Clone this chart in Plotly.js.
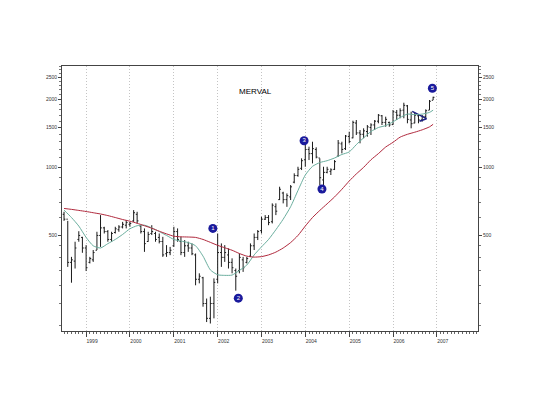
<!DOCTYPE html>
<html>
<head>
<meta charset="utf-8">
<script src="https://cdn.plot.ly/plotly-3.0.1.min.js"></script>
<style>html,body{margin:0;padding:0;background:#fff;}#chart{width:540px;height:405px;}</style>
</head>
<body>
<div id="chart"></div>
<script>
// Monthly bars, Jul 1998 .. Dec 2006
const startYear = 1998, startMonth = 7;
const high = [636,580,402,469,522,493,453,402,431,519,615,546,528,519,546,555,574,585,574,647,636,555,537,519,555,519,510,493,453,445,
546,537,493,477,469,461,416,340,328,263,268,323,510,461,453,438,396,357,416,402,402,461,510,528,605,615,615,693,693,821,
780,767,835,941,1006,1096,1298,1234,1298,1226,1096,1006,1006,990,1077,1321,1298,1390,1437,1608,1619,1462,1488,1539,1566,1619,1721,1704,1675,1592,
1793,1793,1824,1931,1887,1762,1744,1721,1704,1805,1985,2053];
const low = [580,363,309,357,469,419,348,376,382,431,445,510,469,469,510,519,537,537,546,574,565,510,423,469,502,469,461,402,402,409,
445,469,409,402,423,409,301,307,242,207,204,215,307,363,382,357,340,285,340,345,376,402,431,477,510,585,555,565,615,717,
693,669,717,850,909,973,1006,1077,1041,1096,835,835,941,925,973,1114,1153,1193,1277,1344,1390,1277,1344,1366,1390,1462,1566,1539,1512,1512,
1539,1619,1648,1648,1566,1488,1566,1566,1592,1648,1793,1985];
const open = [620,590,380,385,480,490,440,380,390,430,500,540,520,480,515,530,545,555,560,580,620,550,520,470,510,510,490,470,415,420,
450,520,470,420,450,440,410,320,325,250,215,250,320,420,400,410,380,350,350,390,380,405,450,490,525,590,600,575,670,720,
770,720,740,860,920,990,1080,1200,1150,1200,1100,880,950,960,980,1120,1270,1210,1370,1350,1570,1420,1400,1440,1500,1540,1600,1690,1580,1580,
1545,1750,1700,1790,1870,1620,1570,1690,1620,1680,1790,1980];
const close = [590,380,390,440,500,440,360,395,420,500,540,520,480,510,535,545,560,570,565,630,580,520,460,505,520,480,470,410,420,430,
520,480,420,450,440,415,320,330,250,215,250,310,420,400,420,380,360,330,400,360,395,450,490,520,590,600,570,680,640,800,
720,750,820,920,980,1070,1200,1150,1210,1110,900,950,980,975,1060,1280,1200,1375,1300,1580,1420,1400,1450,1510,1540,1600,1700,1580,1630,1540,
1760,1700,1780,1880,1630,1560,1700,1620,1680,1780,1960,2040];

// Moving averages
const maDates = ["1998-07","1998-09","1998-11","1999-01","1999-03","1999-05","1999-07","1999-09","1999-11","2000-01",
"2000-03","2000-05","2000-07","2000-09","2000-11","2001-01","2001-03","2001-05","2001-07","2001-09","2001-11",
"2002-01","2002-03","2002-05","2002-07","2002-09","2002-11","2003-01","2003-03","2003-05","2003-07","2003-09","2003-11",
"2004-01","2004-03","2004-05","2004-07","2004-09","2004-11","2005-01","2005-03","2005-05","2005-07","2005-09","2005-11",
"2006-01","2006-03","2006-05","2006-07","2006-09","2006-11","2006-12"];
const maShort = [647,600,550,490,450,440,460,480,505,535,552,555,540,520,500,480,472,465,450,405,352,
335,333,334,350,370,410,445,480,530,590,670,790,925,1010,1050,1070,1100,1140,1170,1260,1350,1440,1500,1530,
1590,1660,1720,1710,1720,1750,1790];
const maLong = [658,652,645,638,630,622,612,600,588,578,566,552,538,522,508,496,493,492,490,480,466,
452,441,430,416,405,401,403,410,422,440,465,500,550,600,645,690,740,800,870,935,1000,1080,1150,1230,
1290,1360,1400,1430,1465,1510,1550];

// Numbered markers
const markLabels = ["1","2","3","4","5"];
const markDates = ["2001-11-22","2002-06-22","2003-12-22","2004-05-19","2006-11-25"];
const markValues = [537,264,1311,802,2237];

// Triangle (pennant) drawn near 2006
const triDates = ["2006-06-10","2006-10-07","2006-08-10"];
const triValues = [1769,1641,1600];

const yTicks = [500,1000,1500,2000,2500];
const yMinor = [200,250,300,350,400,450,600,700,800,900,1100,1200,1300,1400,1600,1700,1800,1900,2100,2200,2300,2400,2600,2700,2800];

const dates = [];
for (let k = 0; k < high.length; k++) {
  const m0 = startMonth - 1 + k;
  const y = startYear + Math.floor(m0 / 12);
  const m = (m0 % 12) + 1;
  dates.push(y + "-" + (m < 10 ? "0" + m : m) + "-01");
}

const traces = [
  {
    type: "scatter", mode: "lines", x: triDates, y: triValues,
    line: {color: "#1c1f80", width: 1.5}, hoverinfo: "skip", showlegend: false
  },
  {
    type: "ohlc", x: dates, open: open, high: high, low: low, close: close,
    increasing: {line: {color: "#1a1a1a", width: 1}},
    decreasing: {line: {color: "#1a1a1a", width: 1}},
    tickwidth: 0.4, showlegend: false, hoverinfo: "skip"
  },
  {
    type: "scatter", mode: "lines", x: maDates, y: maShort,
    line: {color: "#6aae9e", width: 1, shape: "spline", smoothing: 0.6}, showlegend: false, hoverinfo: "skip"
  },
  {
    type: "scatter", mode: "lines", x: maDates, y: maLong, yaxis: "y2",
    line: {color: "#b0283c", width: 1, shape: "spline", smoothing: 0.6}, showlegend: false, hoverinfo: "skip"
  },
  {
    type: "scatter", mode: "markers+text", x: markDates, y: markValues, yaxis: "y2",
    text: markLabels, textposition: "middle center",
    textfont: {family: "Arial, Liberation Sans, sans-serif", size: 6, color: "#ffffff"},
    marker: {size: 9, color: "#1a1a9c", line: {width: 0}},
    showlegend: false, hoverinfo: "skip"
  }
];

const yRange = [Math.log10(189), Math.log10(2806)];
const axisFont = {family: "Arial, Liberation Sans, sans-serif", size: 5, color: "#333"};

const layout = {
  width: 540, height: 405,
  margin: {l: 62, r: 62, t: 66, b: 74, pad: 0},
  paper_bgcolor: "#ffffff", plot_bgcolor: "#ffffff",
  showlegend: false,
  font: {family: "Arial, Liberation Sans, sans-serif"},
  xaxis: {
    type: "date", range: ["1998-06-14", "2007-12-10"],
    tickmode: "linear", tick0: "1999-01-01", dtick: "M12", tickformat: "%Y",
    ticks: "outside", ticklen: 5, tickwidth: 1, tickcolor: "#444",
    ticklabelshift: 6, ticklabelstandoff: 0,
    tickfont: axisFont,
    showgrid: true, gridcolor: "#c4c4c4", griddash: "1px,2px", gridwidth: 1,
    showline: true, linecolor: "#444", linewidth: 1, mirror: true,
    zeroline: false, fixedrange: true,
    rangeslider: {visible: false},
    minor: {tickmode: "linear", tick0: "1998-07-01", dtick: "M1", ticks: "outside", ticklen: 2, tickcolor: "#666", showgrid: false}
  },
  yaxis: {
    type: "log", range: yRange,
    tickmode: "array", tickvals: yTicks, ticktext: yTicks.map(String),
    ticks: "outside", ticklen: 3, tickcolor: "#444",
    tickfont: axisFont,
    showgrid: false, zeroline: false,
    showline: true, linecolor: "#444", linewidth: 1, mirror: true,
    minor: {tickmode: "array", tickvals: yMinor, ticks: "outside", ticklen: 2, tickcolor: "#777", showgrid: false}
  },
  yaxis2: {
    type: "log", range: yRange, overlaying: "y", side: "right",
    tickmode: "array", tickvals: yTicks, ticktext: yTicks.map(String),
    ticks: "outside", ticklen: 3, tickcolor: "#444",
    tickfont: axisFont,
    showgrid: false, zeroline: false,
    showline: true, linecolor: "#444", linewidth: 1,
    minor: {tickmode: "array", tickvals: yMinor, ticks: "outside", ticklen: 2, tickcolor: "#777", showgrid: false}
  },
  annotations: [{
    text: "MERVAL", xref: "paper", yref: "paper", x: 0.464, y: 0.928,
    showarrow: false, font: {family: "Arial, Liberation Sans, sans-serif", size: 8, color: "#000"}
  }]
};

Plotly.newPlot("chart", traces, layout, {displayModeBar: false, staticPlot: true});
</script>
</body>
</html>
